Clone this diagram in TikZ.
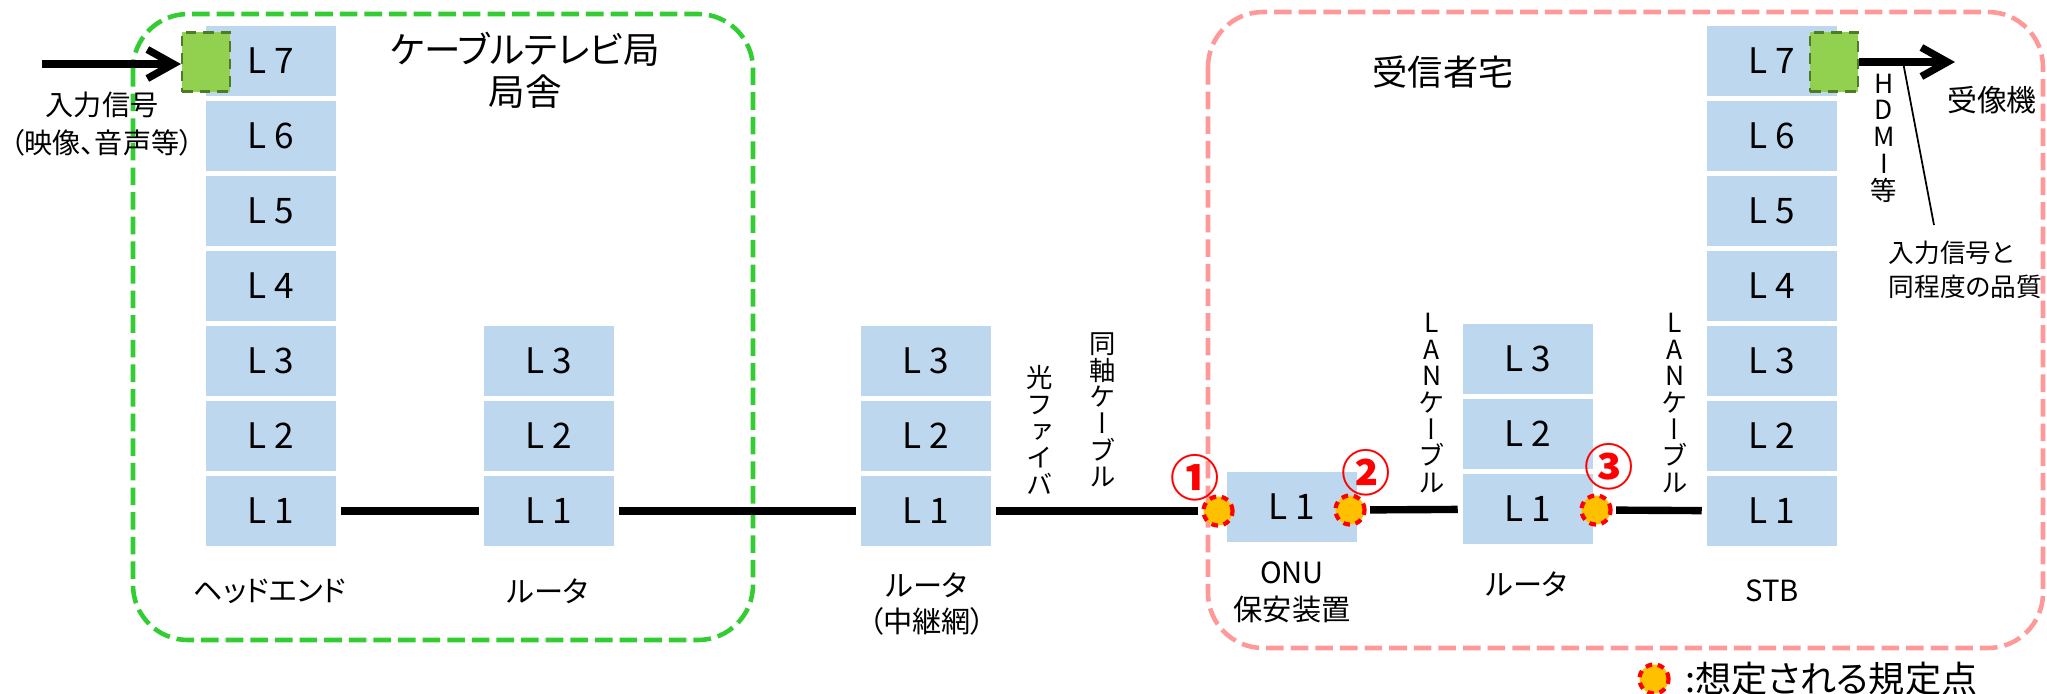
\documentclass[tikz,border=0pt]{standalone}
\usepackage{fontspec}
\setmainfont{Noto Sans CJK JP}[RawFeature={+palt}]
\newfontfamily\vjfont{Noto Sans CJK JP}[RawFeature={+vert}]
\usetikzlibrary{arrows.meta}
\usetikzlibrary{positioning}

\definecolor{layerblue}{HTML}{BDD7EE}
\definecolor{zonegreen}{HTML}{33CC33}
\definecolor{zonepink}{HTML}{FF9999}
\definecolor{portgreen}{HTML}{92D050}
\definecolor{portedge}{HTML}{4F7A28}
\definecolor{markfill}{HTML}{FFC000}

\begin{document}
\begin{tikzpicture}[x=0.01cm, y=-0.01cm,
  layer/.style={rectangle, fill=layerblue, draw=white, line width=0.4pt, minimum width=1.32cm, minimum height=0.72cm, inner sep=0pt, font=\fontsize{10}{10}\selectfont},
  port/.style={rectangle, fill=portgreen, draw=portedge, densely dashed, line width=0.6pt, minimum width=0.48cm, minimum height=0.59cm, inner sep=0pt},
  pointmark/.style={circle, fill=markfill, draw=red, line width=1.2pt, dash pattern=on 1.9pt off 1.6pt, minimum size=0.29cm, inner sep=0pt},
  cable/.style={line width=2.1pt, shorten <=1pt, shorten >=1pt},
  bigarrow/.style={line width=2.1pt, -{Straight Barb[length=2.6mm, width=2.9mm]}},
  zone/.style={line width=1.3pt, dash pattern=on 5pt off 2pt, rounded corners=0.55cm},
  lbl/.style={font=\fontsize{8.3}{10.5}\selectfont, align=center, inner sep=0pt},
  vlbl/.style={font=\vjfont\fontsize{7.5}{7.6}\selectfont, align=center, inner sep=0pt},
  numlbl/.style={text=red, font=\fontsize{14}{14}\selectfont\bfseries, inner sep=0pt}]
\useasboundingbox (0,0) rectangle (2047,693);

\draw [zone, zonegreen] (133,14) rectangle (753,640);
\draw [zone, zonepink] (1208,12) rectangle (2043,648);

\node at (525, 70) (stationTitle) [font=\fontsize{10.4}{12}\selectfont, align=center] {ケーブルテレビ局\\局舎};
\node at (1443, 72) (homeTitle) [font=\fontsize{10}{12}\selectfont] {受信者宅};

\node at (271,  61) (he7) [layer] {L 7};
\node at (271, 136) (he6) [layer] {L 6};
\node at (271, 211) (he5) [layer] {L 5};
\node at (271, 286) (he4) [layer] {L 4};
\node at (271, 361) (he3) [layer] {L 3};
\node at (271, 436) (he2) [layer] {L 2};
\node at (271, 511) (he1) [layer] {L 1};

\node at (549, 361) (rt3) [layer] {L 3};
\node at (549, 436) (rt2) [layer] {L 2};
\node at (549, 511) (rt1) [layer] {L 1};

\node at (926, 361) (rl3) [layer] {L 3};
\node at (926, 436) (rl2) [layer] {L 2};
\node at (926, 511) (rl1) [layer] {L 1};

\node at (1292, 507) (onu) [layer] {L 1};

\node at (1528, 359) (hr3) [layer] {L 3};
\node at (1528, 434) (hr2) [layer] {L 2};
\node at (1528, 509) (hr1) [layer] {L 1};

\node at (1772,  61) (stb7) [layer] {L 7};
\node at (1772, 136) (stb6) [layer] {L 6};
\node at (1772, 211) (stb5) [layer] {L 5};
\node at (1772, 286) (stb4) [layer] {L 4};
\node at (1772, 361) (stb3) [layer] {L 3};
\node at (1772, 436) (stb2) [layer] {L 2};
\node at (1772, 511) (stb1) [layer] {L 1};

\node at (206, 62) (inPort) [port] {};
\node at (1834, 62) (outPort) [port] {};

\node at (1218, 511) (pt1) [pointmark] {};
\node at (1350, 510) (pt2) [pointmark] {};
\node at (1596, 510) (pt3) [pointmark] {};
\node at (1195, 478) [numlbl] {①};
\node at (1366, 473) [numlbl] {②};
\node at (1609, 467) [numlbl] {③};

\draw [cable] (he1) -- (rt1);
\draw [cable] (rt1) -- (rl1);
\draw [cable] (rl1) -- (pt1);
\draw [cable] (pt2) -- (hr1);
\draw [cable] (pt3) -- (stb1);

\coordinate (inSrc) at (42, 64);
\coordinate (outDst) at (1955, 62);
\draw [bigarrow] (inSrc) -- (inSrc -| inPort.west);
\draw [bigarrow] (outPort) -- (outDst);

\node at (102, 124) (inLabel) [font=\fontsize{8}{11}\selectfont, align=center] {入力信号\\（映像、音声等）};
\node at (1992, 100) (tvSet) [font=\fontsize{8.5}{10}\selectfont] {受像機};
\node at (1884, 138) (hdmi) [vlbl] {H\\D\\M\\I\\等};
\node at (1888, 270) (quality) [anchor=west, font=\fontsize{7.3}{9.5}\selectfont, align=left, inner sep=0pt] {入力信号と\\同程度の品質};
\coordinate (hdmiPt) at (1903, 62);
\coordinate (qualTip) at (1934, 225);
\draw [line width=0.5pt] (hdmiPt) -- (qualTip);

\node at (1040, 430) (fiber) [vlbl] {光\\フ\\ァ\\イ\\バ};
\node at (1103, 410) (coax) [vlbl] {同\\軸\\ケ\\ー\\ブ\\ル};
\node at (1432, 403) (lanA) [vlbl] {L\\A\\N\\ケ\\ー\\ブ\\ル};
\node at (1675, 403) (lanB) [vlbl] {L\\A\\N\\ケ\\ー\\ブ\\ル};

\node at (270, 591) (heName) [lbl] {ヘッドエンド};
\node at (548, 591) (rtName) [lbl] {ルータ};
\node at (927, 604) (rlName) [lbl] {ルータ\\（中継網）};
\node at (1292, 592) (onuName) [lbl] {ONU\\保安装置};
\node at (1527, 584) (hrName) [lbl] {ルータ};
\node at (1772, 591) (stbName) [lbl] {STB};

\node at (1654, 679) (legMark) [pointmark] {};
\node [right=0.14cm of legMark, font=\fontsize{10.3}{10.5}\selectfont, inner sep=0pt] (legText) {:想定される規定点};
\end{tikzpicture}
\end{document}
